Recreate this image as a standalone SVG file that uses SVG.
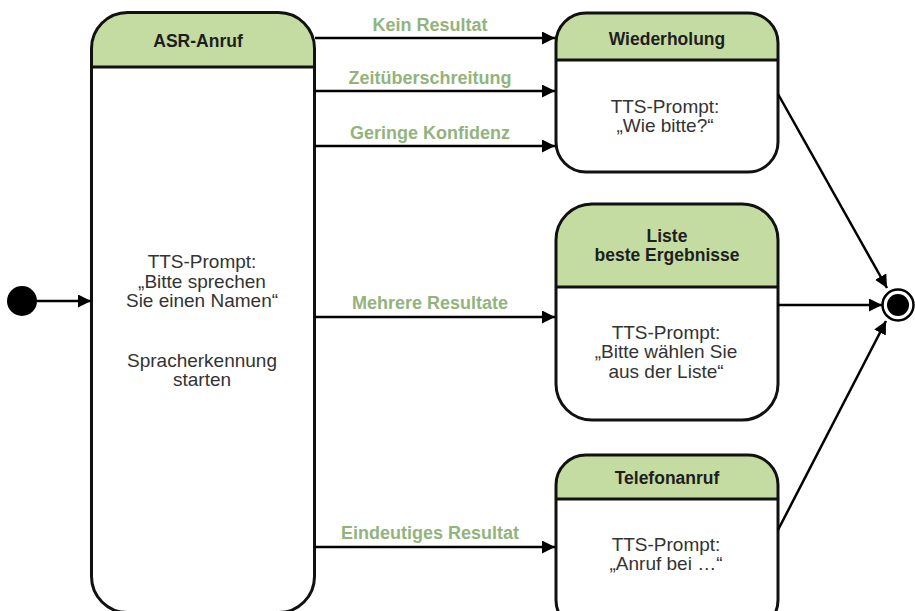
<svg xmlns="http://www.w3.org/2000/svg" width="915" height="611" viewBox="0 0 915 611">
<style>
.box{fill:none;stroke:#111;stroke-width:3}
.hdr{fill:#c4dca2;stroke:none}
.sep{stroke:#111;stroke-width:3}
.ht{font-family:"Liberation Sans",Arial,sans-serif;font-weight:bold;font-size:17.5px;fill:#1e1e1e;text-anchor:middle}
.bt{font-family:"Liberation Sans",Arial,sans-serif;font-size:19px;fill:#333;text-anchor:middle}
.lb{font-family:"Liberation Sans",Arial,sans-serif;font-weight:bold;font-size:18px;fill:#92b47c;text-anchor:middle}
.ln{stroke:#000;stroke-width:2.5;fill:none;marker-end:url(#ah)}
</style>
<defs>
<marker id="ah" viewBox="0 0 13 13" refX="13" refY="6.5" markerWidth="13" markerHeight="13" markerUnits="userSpaceOnUse" orient="auto">
<path d="M0,0 L13,6.5 L0,13 Z" fill="#000"/>
</marker>
</defs>
<rect width="915" height="611" fill="#fff"/>

<g id="start">
<circle cx="22" cy="301" r="15" fill="#000"/>
</g>

<g id="asr">
<rect x="91.5" y="12.5" width="223" height="600" rx="36" fill="#fff"/>
<path class="hdr" d="M91.5,67 V48.5 A36,36 0 0 1 127.5,12.5 H278.5 A36,36 0 0 1 314.5,48.5 V67 Z"/>
<line class="sep" x1="91.5" y1="67" x2="314.5" y2="67"/>
<rect class="box" x="91.5" y="12.5" width="223" height="600" rx="36"/>
<text class="ht" x="198" y="47">ASR-Anruf</text>
<text class="bt" x="202" y="268">TTS-Prompt:</text>
<text class="bt" x="202" y="288">„Bitte sprechen</text>
<text class="bt" x="202" y="307">Sie einen Namen“</text>
<text class="bt" x="202" y="367">Spracherkennung</text>
<text class="bt" x="202" y="386">starten</text>
</g>

<g id="wiederholung">
<rect x="556" y="13" width="222" height="159" rx="30" fill="#fff"/>
<path class="hdr" d="M556,60 V43 A30,30 0 0 1 586,13 H748 A30,30 0 0 1 778,43 V60 Z"/>
<line class="sep" x1="556" y1="60" x2="778" y2="60"/>
<rect class="box" x="556" y="13" width="222" height="159" rx="30"/>
<text class="ht" x="667" y="45">Wiederholung</text>
<text class="bt" x="665" y="113">TTS-Prompt:</text>
<text class="bt" x="665" y="132">„Wie bitte?“</text>
</g>

<g id="liste">
<rect x="556" y="204" width="222" height="216" rx="36" fill="#fff"/>
<path class="hdr" d="M556,287 V240 A36,36 0 0 1 592,204 H742 A36,36 0 0 1 778,240 V287 Z"/>
<line class="sep" x1="556" y1="287" x2="778" y2="287"/>
<rect class="box" x="556" y="204" width="222" height="216" rx="36"/>
<text class="ht" x="667" y="242">Liste</text>
<text class="ht" x="667" y="261">beste Ergebnisse</text>
<text class="bt" x="666" y="339">TTS-Prompt:</text>
<text class="bt" x="666" y="358">„Bitte wählen Sie</text>
<text class="bt" x="666" y="378">aus der Liste“</text>
</g>

<g id="telefonanruf">
<rect x="556" y="455" width="222" height="175" rx="30" fill="#fff"/>
<path class="hdr" d="M556,499 V485 A30,30 0 0 1 586,455 H748 A30,30 0 0 1 778,485 V499 Z"/>
<line class="sep" x1="556" y1="499" x2="778" y2="499"/>
<rect class="box" x="556" y="455" width="222" height="175" rx="30"/>
<text class="ht" x="667" y="484">Telefonanruf</text>
<text class="bt" x="666" y="551">TTS-Prompt:</text>
<text class="bt" x="666" y="570">„Anruf bei …“</text>
</g>

<g id="end">
<circle cx="898" cy="305" r="15.5" fill="#fff" stroke="#000" stroke-width="2.5"/>
<circle cx="898" cy="305" r="11" fill="#000"/>
</g>

<g id="connectors">
<line class="ln" x1="37" y1="301" x2="91" y2="301"/>
<line class="ln" x1="315" y1="38" x2="555" y2="38"/>
<line class="ln" x1="315" y1="91" x2="555" y2="91"/>
<line class="ln" x1="315" y1="146" x2="555" y2="146"/>
<line class="ln" x1="315" y1="317" x2="555" y2="317"/>
<line class="ln" x1="315" y1="547" x2="555" y2="547"/>
<line class="ln" x1="778" y1="305" x2="882" y2="305"/>
<line class="ln" x1="778" y1="94" x2="887" y2="288"/>
<line class="ln" x1="778" y1="530" x2="886" y2="321"/>
<text class="lb" x="430" y="31">Kein Resultat</text>
<text class="lb" x="430" y="84">Zeitüberschreitung</text>
<text class="lb" x="430" y="139">Geringe Konfidenz</text>
<text class="lb" x="430" y="309">Mehrere Resultate</text>
<text class="lb" x="430" y="539">Eindeutiges Resultat</text>
</g>
</svg>
